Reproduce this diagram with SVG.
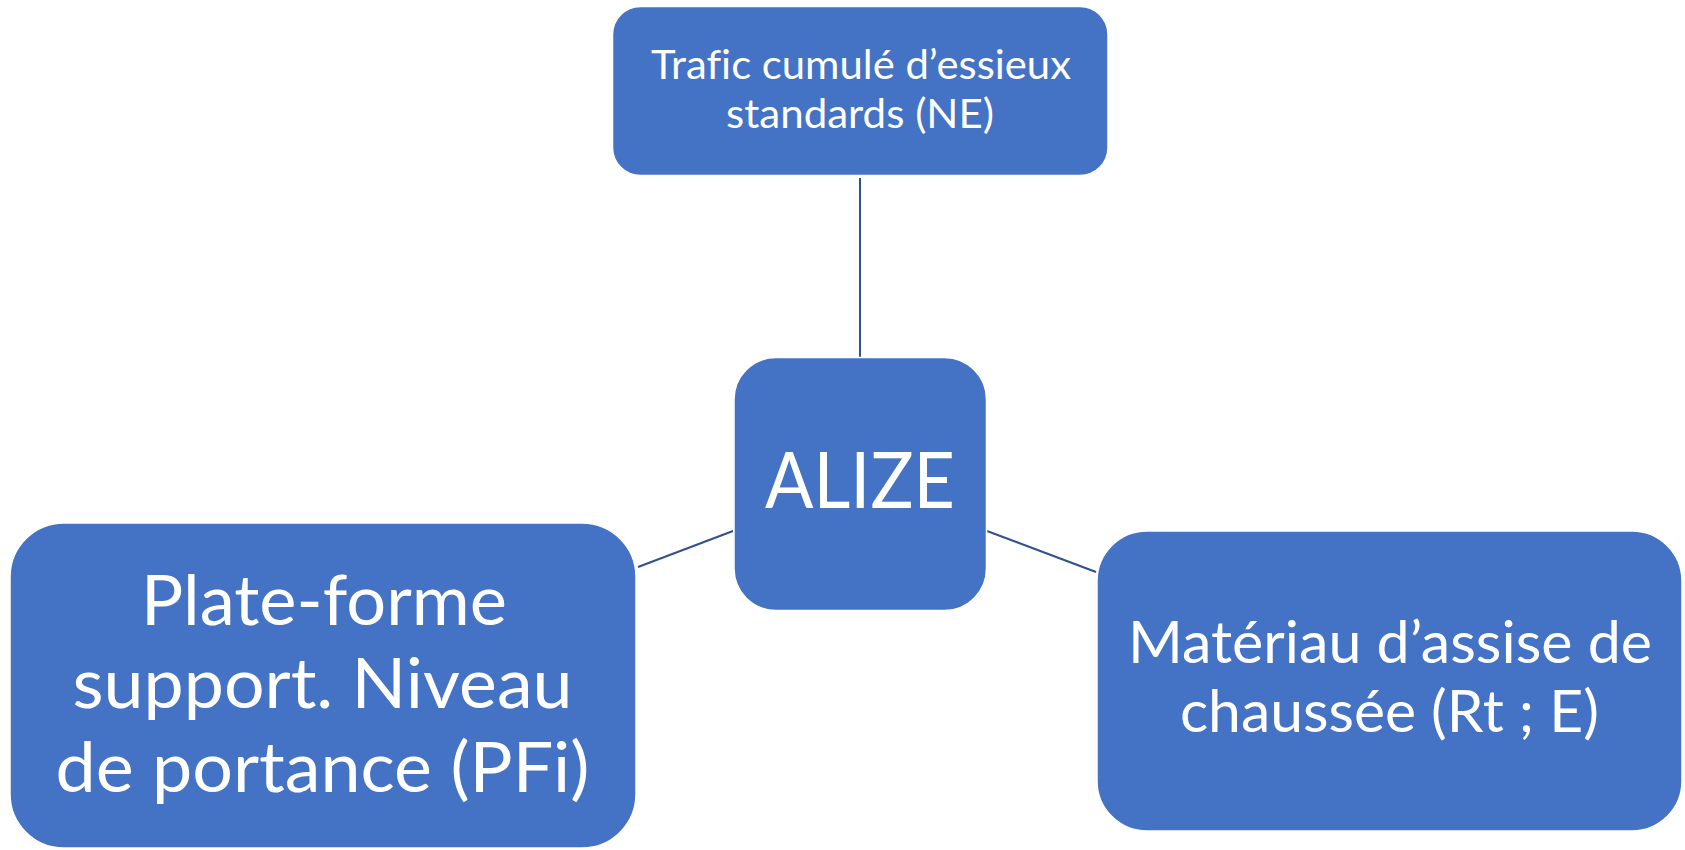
<svg xmlns="http://www.w3.org/2000/svg" width="1685" height="850" viewBox="0 0 1685 850">
<style>
.box{fill:#4472C4;stroke:#FFFFFF;stroke-width:1.5}
.t{font-family:Lato,"Open Sans","Liberation Sans",sans-serif;fill:#FFFFFF;text-anchor:middle;font-variant-ligatures:none;font-feature-settings:"liga" 0,"clig" 0}
.c{stroke:#2F528F;stroke-width:2;fill:none}
</style>
<rect width="1685" height="850" fill="#FFFFFF"/>
<g id="connectors">
<line class="c" x1="860" y1="178" x2="860" y2="357"/>
<line class="c" x1="638" y1="567" x2="733" y2="531"/>
<line class="c" x1="987" y1="531" x2="1096" y2="572"/>
</g>
<g id="node-trafic">
<rect class="box" x="612.5" y="6.5" width="495.5" height="169" rx="28" ry="28"/>
<text class="t" font-size="41.5"><tspan x="861" y="79" textLength="420" lengthAdjust="spacingAndGlyphs">Trafic cumulé d’essieux</tspan><tspan x="860" y="128" textLength="268" lengthAdjust="spacingAndGlyphs">standards (NE)</tspan></text>
</g>
<g id="node-alize">
<rect class="box" x="734" y="357.5" width="252.5" height="253" rx="42" ry="42"/>
<text class="t" font-size="77" x="860" y="508" textLength="190" lengthAdjust="spacingAndGlyphs">ALIZE</text>
</g>
<g id="node-plateforme">
<rect class="box" x="10" y="523" width="626" height="325" rx="54" ry="54"/>
<text class="t" font-size="69.5"><tspan x="324" y="625" textLength="366" lengthAdjust="spacingAndGlyphs">Plate-forme</tspan><tspan x="322.5" y="708" textLength="500" lengthAdjust="spacingAndGlyphs">support. Niveau</tspan><tspan x="322.5" y="792" textLength="534" lengthAdjust="spacingAndGlyphs">de portance (PFi)</tspan></text>
</g>
<g id="node-materiau">
<rect class="box" x="1097" y="531" width="585" height="300" rx="50" ry="50"/>
<text class="t" font-size="58"><tspan x="1390" y="663" textLength="524" lengthAdjust="spacingAndGlyphs">Matériau d’assise de</tspan><tspan x="1389.5" y="732" textLength="419" lengthAdjust="spacingAndGlyphs">chaussée (Rt ; E)</tspan></text>
</g>
</svg>
